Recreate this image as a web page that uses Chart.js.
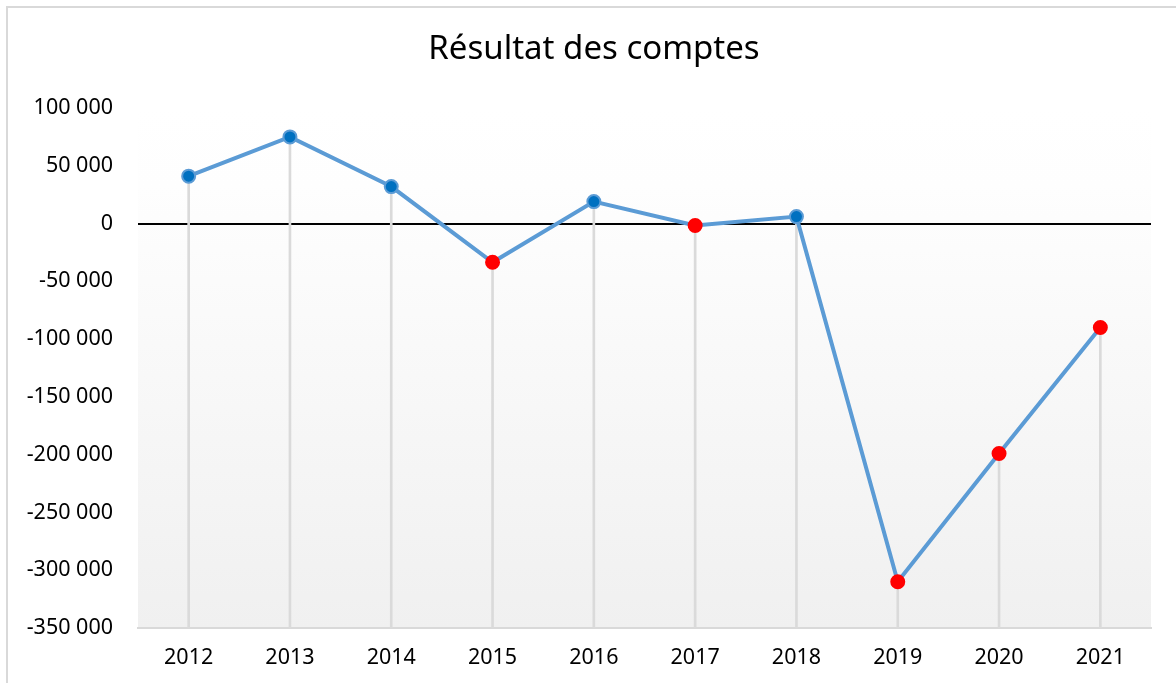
<!DOCTYPE html>
<html>
<head>
<meta charset="utf-8">
<script src="https://cdn.jsdelivr.net/npm/chart.js@4.4.1/dist/chart.umd.min.js"></script>
<style>
  html, body { margin: 0; padding: 0; background: #ffffff; overflow: hidden; width: 1176px; height: 683px; }
  #frame { position: absolute; left: 6px; top: 6px; width: 1190px; height: 700px; border: 2px solid #d9d9d9; box-sizing: border-box; }
  #wrap { position: absolute; left: 0; top: 0; width: 1176px; height: 683px; }
</style>
</head>
<body>
<div id="frame"></div>
<div id="wrap"><canvas id="c" width="1176" height="683"></canvas></div>
<script>
const chartTitle = 'Résultat des comptes';
const years = ['2012','2013','2014','2015','2016','2017','2018','2019','2020','2021'];
const results = [41000, 75000, 32000, -33500, 19000, -1700, 6000, -310000, -199000, -90000];
const yTickValues = [100000, 50000, 0, -50000, -100000, -150000, -200000, -250000, -300000, -350000];
const yMin = -350000;
const yMax = 100000;

const FONT = '"Noto Sans", "Open Sans", sans-serif';

function fmt(v) {
  const s = Math.abs(v).toString().replace(/\B(?=(\d{3})+(?!\d))/g, ' ');
  return (v < 0 ? '-' : '') + s;
}

const bgPlugin = {
  id: 'bg',
  beforeDraw(chart) {
    const a = chart.chartArea, ctx = chart.ctx;
    const g = ctx.createLinearGradient(0, a.top, 0, a.bottom);
    g.addColorStop(0, '#ffffff');
    g.addColorStop(0.15, '#fefefe');
    g.addColorStop(1, '#f0f0f0');
    ctx.save();
    ctx.fillStyle = g;
    ctx.fillRect(a.left, a.top, a.right - a.left, a.bottom - a.top);
    ctx.restore();
  }
};

const titlePlugin = {
  id: 'frameTitle',
  afterDraw(chart) {
    const ctx = chart.ctx;
    ctx.save();
    ctx.font = '33px ' + FONT;
    ctx.fillStyle = '#000000';
    ctx.textAlign = 'center';
    ctx.textBaseline = 'middle';
    ctx.fillText(chartTitle, 594, 50);
    ctx.restore();
  }
};

new Chart(document.getElementById('c'), {
  data: {
    labels: years,
    datasets: [
      {
        type: 'line',
        data: results,
        order: 0,
        borderColor: '#5b9bd5',
        borderWidth: 4,
        tension: 0,
        pointRadius: 6.5,
        pointHoverRadius: 6.5,
        pointBorderWidth: 2,
        pointBackgroundColor: ctx => (ctx.raw < 0 ? '#ff0000' : '#0070c0'),
        pointBorderColor: ctx => (ctx.raw < 0 ? '#ff0000' : '#5b9bd5')
      },
      {
        type: 'bar',
        data: results.map(v => [yMin, v]),
        order: 1,
        backgroundColor: '#dadada',
        barThickness: 2,
        borderWidth: 0
      }
    ]
  },
  options: {
    responsive: false,
    animation: false,
    events: [],
    layout: { padding: { left: 0, right: 25, top: 108, bottom: 0 } },
    plugins: {
      legend: { display: false },
      tooltip: { enabled: false },
      title: { display: false }
    },
    scales: {
      x: {
        offset: true,
        grid: { display: false, drawTicks: false },
        border: { display: true, color: '#d9d9d9', width: 2 },
        ticks: { color: '#000000', font: { family: FONT, size: 21.5 }, padding: 17 },
        afterFit(s) { s.height = 55; }
      },
      y: {
        min: yMin,
        max: yMax,
        afterBuildTicks(s) { s.ticks = yTickValues.map(v => ({ value: v })); },
        grid: {
          drawTicks: false,
          color: c => (c.tick && c.tick.value === 0 ? '#000000' : 'rgba(0,0,0,0)'),
          lineWidth: c => (c.tick && c.tick.value === 0 ? 2 : 0)
        },
        border: { display: false },
        ticks: {
          color: '#000000',
          font: { family: FONT, size: 21.5 },
          padding: 25,
          callback: v => fmt(v)
        },
        afterFit(s) { s.width = 138; }
      }
    }
  },
  plugins: [bgPlugin, titlePlugin]
});
</script>
</body>
</html>
